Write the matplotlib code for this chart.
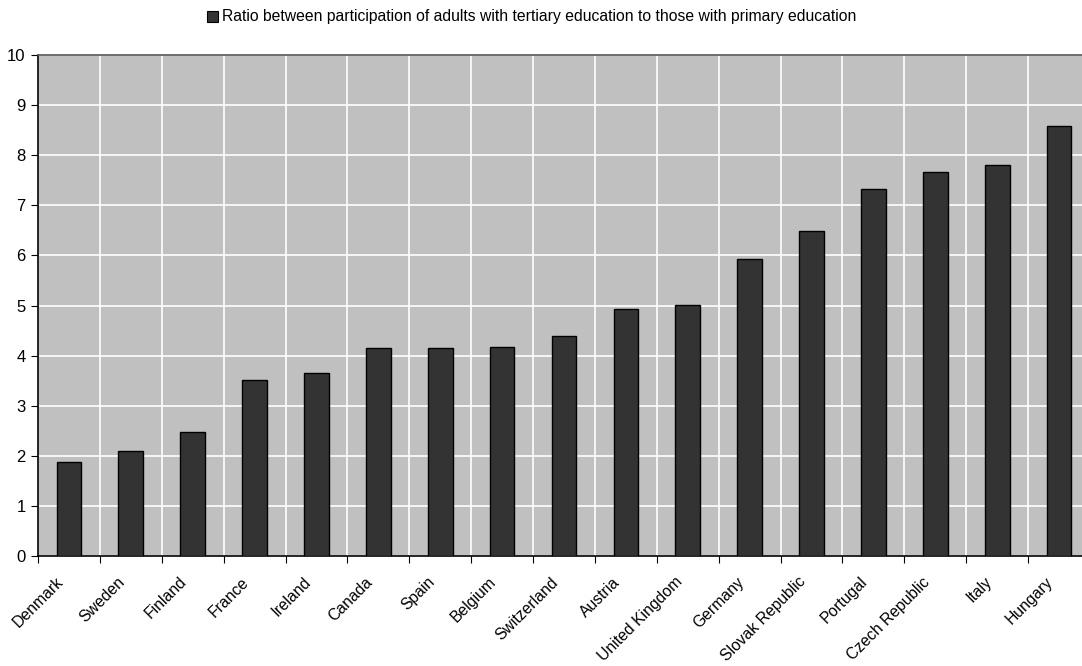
import matplotlib
matplotlib.use("Agg")
import matplotlib.pyplot as plt
import matplotlib.transforms as mtransforms
from matplotlib.patches import Patch
import numpy as np

plt.rcParams['font.family'] = ['Liberation Sans', 'DejaVu Sans']

# data
countries = ["Denmark", "Sweden", "Finland", "France", "Ireland", "Canada", "Spain",
             "Belgium", "Switzerland", "Austria", "United Kingdom", "Germany",
             "Slovak Republic", "Portugal", "Czech Republic", "Italy", "Hungary"]
ratio = [1.88, 2.10, 2.48, 3.51, 3.66, 4.15, 4.16, 4.18, 4.40, 4.93, 5.01,
         5.92, 6.49, 7.33, 7.67, 7.80, 8.58]
series_name = "Ratio between participation of adults with tertiary education to those with primary education"

fig = plt.figure(figsize=(10.82, 6.66), dpi=100)
# plot area runs a bit past the right edge of the picture, as in the original
ax = fig.add_axes([38 / 1082, 110 / 666, 1052 / 1082, 501 / 666])
ax.set_facecolor('#C0C0C0')

x = np.arange(len(countries))
ax.bar(x, ratio, width=0.4, color='#333333', edgecolor='black', linewidth=1, zorder=3)

ax.set_xlim(-0.5, len(countries) - 0.5)
ax.set_ylim(0, 10)
ax.set_yticks(range(0, 11))

# ticks at category borders, labels at centres
ax.set_xticks(np.arange(-0.5, len(countries), 1.0))
ax.set_xticklabels([])
ax.set_xticks(x, minor=True)
ax.set_xticklabels(countries, minor=True, rotation=45, ha='right', va='center',
                   rotation_mode='anchor', fontsize=11.3)
ax.tick_params(axis='x', which='minor', length=0, pad=17)
ax.tick_params(axis='x', which='major', length=5, direction='out', color='black')
ax.tick_params(axis='y', length=5, direction='out', labelsize=12, pad=4)
shift = mtransforms.ScaledTranslation(-8 / 100, 0, fig.dpi_scale_trans)
for lab in ax.get_xticklabels(minor=True):
    lab.set_transform(lab.get_transform() + shift)

ax.grid(True, which='major', color='white', linewidth=1.2, zorder=0)
ax.set_axisbelow(True)

ax.spines['left'].set_color('black')
ax.spines['bottom'].set_color('black')
ax.spines['top'].set_color('#555555')
ax.spines['right'].set_color('#555555')
for s in ax.spines.values():
    s.set_linewidth(1.2)

handle = Patch(facecolor='#333333', edgecolor='black', linewidth=0.8)
fig.legend([handle], [series_name], loc='center', bbox_to_anchor=(532 / 1082, 1 - 17 / 666),
           frameon=False, fontsize=11.3, handlelength=0.7, handleheight=0.7, handletextpad=0.25)

fig.savefig("out.png", dpi=100)
